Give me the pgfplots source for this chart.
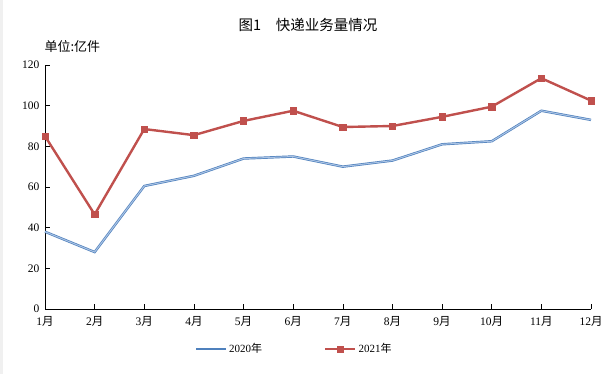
\documentclass[border=0pt]{standalone}
\usepackage{pgfplots}
\pgfplotsset{compat=1.18}
\usepackage{fontspec}
\setmainfont{Liberation Serif}
\newfontfamily\cjk{Noto Sans CJK SC}
\definecolor{blueD}{RGB}{79,129,189}
\definecolor{blueL}{RGB}{170,195,228}
\definecolor{redL}{RGB}{192,80,77}
\begin{document}
\begin{tikzpicture}
\useasboundingbox[fill=white] (0pt,0pt) rectangle (609pt,374pt);
\fill[black!6] (0pt,0pt) rectangle (3pt,374pt);
\node[font=\cjk\fontsize{14.5}{16}\selectfont] at (308pt,349pt) {图1\quad 快递业务量情况};
\node[font=\cjk\fontsize{13}{15}\selectfont, anchor=west] at (41pt,327pt) {单位:亿件};
\begin{axis}[
  at={(45pt,65pt)}, anchor=south west,
  scale only axis, width=546pt, height=244pt,
  xmin=1, xmax=12, ymin=0, ymax=120,
  axis lines=left, axis line style={-, line width=0.8pt},
  xtick={1,...,12},
  xticklabels={1{\cjk 月},2{\cjk 月},3{\cjk 月},4{\cjk 月},5{\cjk 月},6{\cjk 月},7{\cjk 月},8{\cjk 月},9{\cjk 月},10{\cjk 月},11{\cjk 月},12{\cjk 月}},
  ytick={0,20,...,120},
  tick align=inside, major tick length=5pt,
  tick style={black, line width=0.6pt},
  tick label style={font=\fontsize{11.5}{13}\selectfont},
  /pgf/number format/assume math mode=true,
  xticklabel style={yshift=-4pt},
  yticklabel style={xshift=-2pt},
  clip=false,
  legend style={at={(0.457,-0.125)}, anchor=north, draw=none, fill=none,
    legend columns=2, font=\fontsize{11}{13}\selectfont,
    /tikz/every even column/.append style={column sep=60pt}},
  legend cell align=left,
  legend image code/.code={\draw[#1] (0pt,0pt) -- (30pt,0pt); \draw[#1, only marks] plot coordinates {(15pt,0pt)};},
]
\addplot[draw=blueD, line width=2.4pt, forget plot] coordinates {
(1,38) (2,28) (3,60.5) (4,65.5) (5,74) (6,75) (7,70) (8,73) (9,81) (10,82.5) (11,97.5) (12,93)};
\addplot[draw=blueL, line width=1.0pt, legend image post style={draw=blueD, line width=1.8pt}] coordinates {
(1,38) (2,28) (3,60.5) (4,65.5) (5,74) (6,75) (7,70) (8,73) (9,81) (10,82.5) (11,97.5) (12,93)};
\addlegendentry{2020{\cjk 年}}
\addplot[draw=redL, line width=2.4pt, mark=square*, mark size=3.2pt, mark options={fill=redL, draw=redL, line width=0.5pt}] coordinates {
(1,85) (2,46.5) (3,88.5) (4,85.5) (5,92.5) (6,97.5) (7,89.5) (8,90) (9,94.5) (10,99.5) (11,113.5) (12,102.5)};
\addlegendentry{2021{\cjk 年}}
\end{axis}
\end{tikzpicture}
\end{document}
